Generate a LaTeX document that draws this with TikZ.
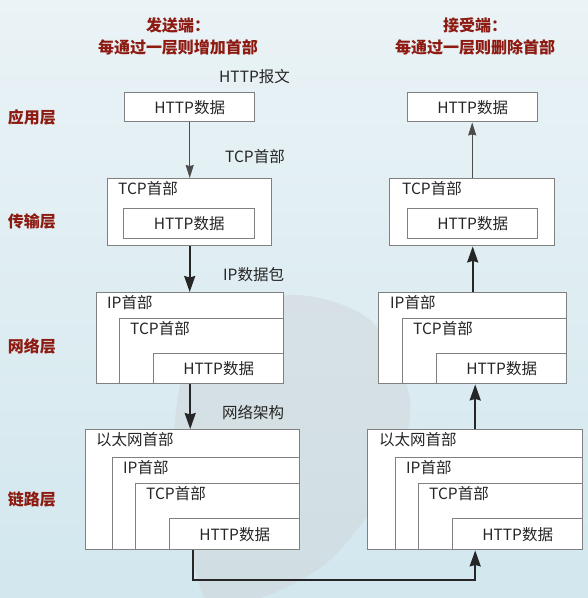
\documentclass[tikz,border=0pt]{standalone}
\usepackage{fontspec}
\setmainfont{Noto Sans CJK SC}
\usetikzlibrary{positioning,arrows.meta}
\definecolor{layerred}{HTML}{8E1B12}
\definecolor{boxgray}{HTML}{808080}
\definecolor{txtdark}{HTML}{262626}
\definecolor{bgtop}{HTML}{EAF3F6}
\definecolor{bgbot}{HTML}{D2E7EE}
\definecolor{whale}{HTML}{CDD1D3}
\tikzset{
	box/.style={draw=boxgray,line width=1.4pt,fill=white,anchor=north west,inner sep=0pt,text=txtdark},
	hdr/.style={anchor=west,inner sep=0pt,text=txtdark},
	layer/.style={text=layerred,font=\bfseries\fontsize{16}{18}\selectfont,inner sep=0pt},
	ttl/.style={text=layerred,font=\bfseries\fontsize{16}{22}\selectfont,align=center,inner sep=0pt},
	thinarr/.style={-{Stealth[length=13pt,width=8pt,inset=1pt]},line width=1.2pt,draw=black!70},
	thickarr/.style={-{Stealth[length=16pt,width=11pt,inset=1.5pt]},line width=2pt,draw=black!85},
}
\begin{document}
\begin{tikzpicture}[x=1pt,y=-1pt,font=\fontsize{15.5}{18}\selectfont]
	\useasboundingbox (0,0) rectangle (588,598);
	\shade[top color=bgtop,bottom color=bgbot] (0,0) rectangle (588,598);
	\begin{scope}
		\clip (0,0) rectangle (588,598);
		\fill[whale,opacity=0.4] plot[smooth cycle] coordinates {(200,330) (290,295) (370,320) (410,400) (390,480) (330,560) (260,598) (205,598) (185,500) (175,420)};
	\end{scope}
	% titles and layer names
	\node[ttl] (sTitle) at (178,36) {发送端：\\每通过一层则增加首部};
	\node[ttl] (rTitle) at (475,36) {接受端：\\每通过一层则删除首部};
	\node[layer] (lApp) at (32,117) {应用层};
	\node[layer] (lTrans) at (32,221) {传输层};
	\node[layer] (lNet) at (32,346) {网络层};
	\node[layer] (lLink) at (32,499) {链路层};
	% sender
	\node[box,minimum width=130pt,minimum height=29pt] (sApp) at (124,92) {HTTP数据};
	\node[box,minimum width=164pt,minimum height=67pt] (sTcp) at (107,178) {};
	\node[hdr] (sTcpHdr) at (118,189) {TCP首部};
	\node[box,minimum width=131pt,minimum height=30pt] (sTcpData) at (123,208) {HTTP数据};
	\node[box,minimum width=187pt,minimum height=91pt] (sNet) at (96,292) {};
	\node[hdr] (sNetHdr) at (107,303) {IP首部};
	\node[box,minimum width=164pt,minimum height=65pt] (sNetTcp) at (119,318) {};
	\node[hdr] (sNetTcpHdr) at (130,329) {TCP首部};
	\node[box,minimum width=130pt,minimum height=30pt] (sNetData) at (153,353) {HTTP数据};
	\node[box,minimum width=214pt,minimum height=120pt] (sLink) at (85,429) {};
	\node[hdr] (sLinkHdr) at (96,440) {以太网首部};
	\node[box,minimum width=187pt,minimum height=92pt] (sLinkIp) at (112,457) {};
	\node[hdr] (sLinkIpHdr) at (123,468) {IP首部};
	\node[box,minimum width=164pt,minimum height=66pt] (sLinkTcp) at (135,483) {};
	\node[hdr] (sLinkTcpHdr) at (146,494) {TCP首部};
	\node[box,minimum width=130pt,minimum height=31pt] (sLinkData) at (169,518) {HTTP数据};
	% receiver
	\node[box,minimum width=130pt,minimum height=29pt] (rApp) at (407,92) {HTTP数据};
	\node[box,minimum width=165pt,minimum height=67pt] (rTcp) at (389,178) {};
	\node[hdr] (rTcpHdr) at (402,189) {TCP首部};
	\node[box,minimum width=130pt,minimum height=30pt] (rTcpData) at (407,208) {HTTP数据};
	\node[box,minimum width=188pt,minimum height=91pt] (rNet) at (378,292) {};
	\node[hdr] (rNetHdr) at (390,303) {IP首部};
	\node[box,minimum width=164pt,minimum height=65pt] (rNetTcp) at (402,318) {};
	\node[hdr] (rNetTcpHdr) at (413,329) {TCP首部};
	\node[box,minimum width=130pt,minimum height=30pt] (rNetData) at (436,353) {HTTP数据};
	\node[box,minimum width=215pt,minimum height=120pt] (rLink) at (367,429) {};
	\node[hdr] (rLinkHdr) at (379,440) {以太网首部};
	\node[box,minimum width=187pt,minimum height=92pt] (rLinkIp) at (395,457) {};
	\node[hdr] (rLinkIpHdr) at (406,468) {IP首部};
	\node[box,minimum width=164pt,minimum height=66pt] (rLinkTcp) at (418,483) {};
	\node[hdr] (rLinkTcpHdr) at (429,494) {TCP首部};
	\node[box,minimum width=130pt,minimum height=31pt] (rLinkData) at (452,518) {HTTP数据};
	% arrow labels
	\node[hdr] (msgApp) at (219,77) {HTTP报文};
	\node[hdr] (msgTcp) at (225,157) {TCP首部};
	\node[hdr] (msgIp) at (223,275) {IP数据包};
	\node[hdr] (msgLink) at (222,413) {网络架构};
	% arrows
	\draw[thinarr] (sApp.south) -- (sTcp.north);
	\draw[thickarr] (sTcp.south) -- (sTcp.south |- sNet.north);
	\draw[thickarr] (sNet.south) -- (sNet.south |- sLink.north);
	\draw[thickarr] (sLink.south) -- ++(0,30) -| (rLink.south);
	\draw[thickarr] (rLink.north) -- (rLink.north |- rNet.south);
	\draw[thickarr] (rNet.north) -- (rNet.north |- rTcp.south);
	\draw[thinarr] (rTcp.north) -- (rTcp.north |- rApp.south);
\end{tikzpicture}
\end{document}
